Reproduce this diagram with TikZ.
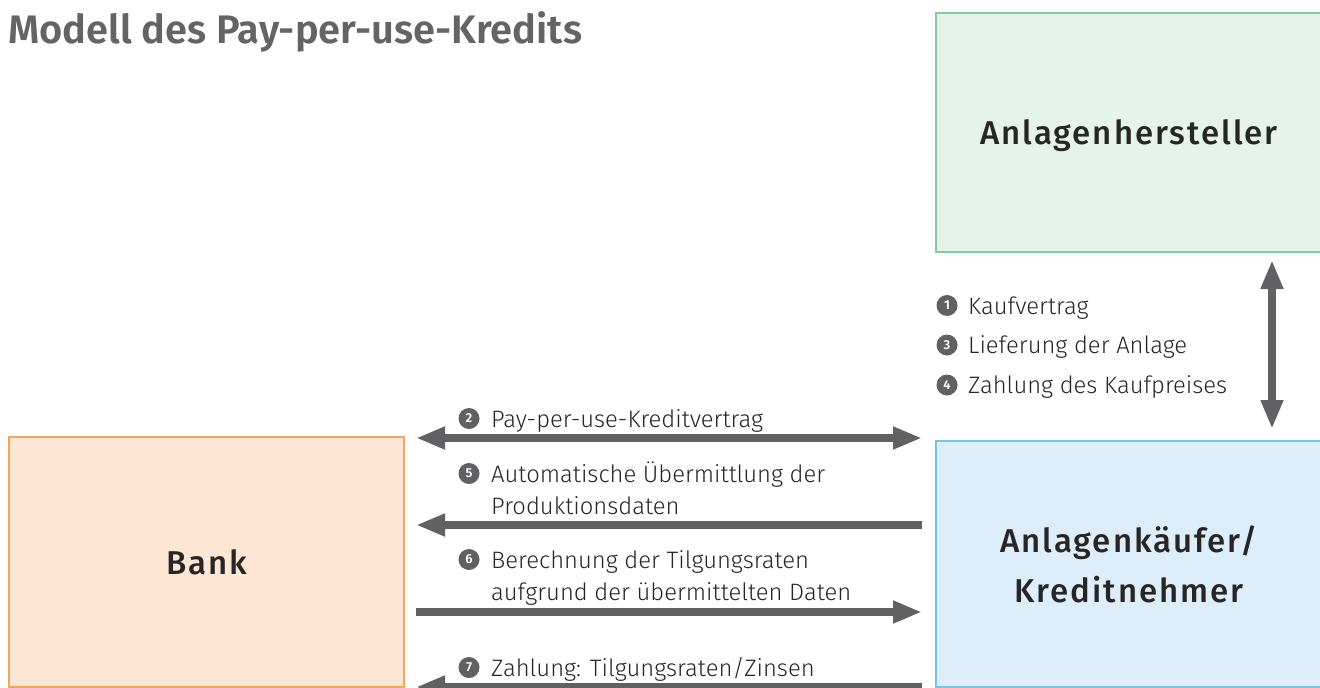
\documentclass[tikz,border=0pt]{standalone}
\usepackage{fontspec}
\setmainfont{Fira Sans}[UprightFont=* Light, BoldFont=* SemiBold]
\newfontfamily\medfont{Fira Sans Medium}[LetterSpace=6]
\newfontfamily\boldfont{Fira Sans}[UprightFont=* SemiBold]
\usetikzlibrary{arrows.meta}
\definecolor{titlegray}{HTML}{646464}
\definecolor{arrowgray}{HTML}{616163}
\definecolor{txt}{HTML}{262626}
\definecolor{greenfill}{HTML}{E5F3EA}
\definecolor{greenline}{HTML}{80CDA3}
\definecolor{bluefill}{HTML}{DDEDF9}
\definecolor{blueline}{HTML}{74C3EE}
\definecolor{orangefill}{HTML}{FDE7D4}
\definecolor{orangeline}{HTML}{F6A45C}
\tikzset{
  party/.style={draw, line width=2pt, anchor=north west, inner sep=0pt,
    align=center, text=txt, font=\medfont\fontsize{33}{50}\selectfont},
  flow/.style={line width=8pt, draw=arrowgray,
    arrows={-Triangle[length=29pt,width=21pt]}},
  flowboth/.style={line width=8pt, draw=arrowgray,
    arrows={Triangle[length=29pt,width=21pt]-Triangle[length=29pt,width=21pt]}},
  num/.style={circle, fill=arrowgray, inner sep=0pt, minimum size=21pt,
    text=white, font=\boldfont\fontsize{13}{13}\selectfont},
  lbl/.style={anchor=base west, inner sep=0pt, text=txt, align=left,
    font=\fontsize{23.8}{32}\selectfont},
}
\begin{document}
\begin{tikzpicture}[x=1pt,y=-1pt]
\useasboundingbox (0,0) rectangle (1320,688);
% title
\node[anchor=base west, inner sep=0pt, text=titlegray,
  font=\boldfont\fontsize{39.8}{40}\selectfont] (title) at (8,43) {Modell des Pay-per-use-Kredits};
% boxes
\node[party, fill=greenfill, draw=greenline, minimum width=386pt, minimum height=239pt, text height=28pt, text depth=5pt] (herst) at (935,12) {Anlagenhersteller};
\node[party, fill=bluefill, draw=blueline, minimum width=386pt, minimum height=246pt] (kaeufer) at (935,440) {Anlagenkäufer/\\Kreditnehmer};
\node[party, fill=orangefill, draw=orangeline, minimum width=395pt, minimum height=250pt] (bank) at (8,436) {Bank};
% connector end points
\coordinate (vtop) at (1272,260);
\coordinate (vbot) at (1272,429);
\coordinate (l2) at (416,438);
\coordinate (r2) at (922,438);
\coordinate (l5) at (416,525);
\coordinate (r5) at (922,525);
\coordinate (l6) at (416,612);
\coordinate (r6) at (922,612);
\coordinate (l7) at (416,687);
\coordinate (r7) at (922,687);
% connectors
\draw[flowboth] (vtop) -- (vbot);
\draw[flowboth] (l2) -- (r2);
\draw[flow] (r5) -- (l5);
\draw[flow] (l6) -- (r6);
\draw[flow] (r7) -- (l7);
% labels right side
\node[num] (n1) at (947,305.5) {1};
\node[lbl] (t1) at (968,314) {Kaufvertrag};
\node[num] (n3) at (947,345) {3};
\node[lbl] (t3) at (968,353.5) {Lieferung der Anlage};
\node[num] (n4) at (947,385) {4};
\node[lbl] (t4) at (968,393.5) {Zahlung des Kaufpreises};
% labels middle
\node[num] (n2) at (469,418.5) {2};
\node[lbl] (t2) at (491,427) {Pay-per-use-Kreditvertrag};
\node[num] (n5) at (469,473.5) {5};
\node[lbl] (t5) at (491,514) {Automatische Übermittlung der\\Produktionsdaten};
\node[num] (n6) at (469,559.5) {6};
\node[lbl] (t6) at (491,600) {Berechnung der Tilgungsraten\\aufgrund der übermittelten Daten};
\node[num] (n7) at (469,667.5) {7};
\node[lbl] (t7) at (491,676) {Zahlung: Tilgungsraten/Zinsen};
\end{tikzpicture}
\end{document}
